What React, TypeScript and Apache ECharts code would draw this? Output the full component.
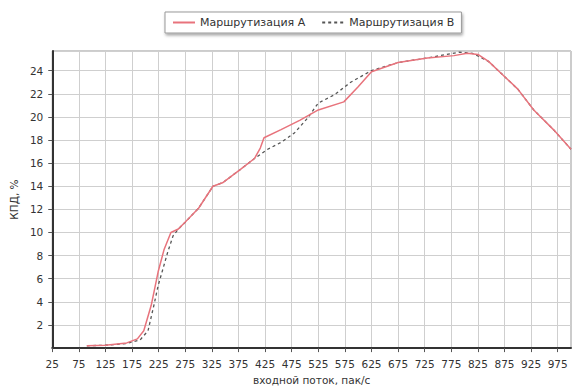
import React, { useEffect, useRef } from "react";
import * as echarts from "echarts";

const seriesNames = ["Маршрутизация А", "Маршрутизация В"];

const routeA: [number, number][] = [
  [90, 0.2], [125, 0.25], [165, 0.45], [185, 0.8], [197, 1.5], [211, 3.7],
  [224, 6.6], [235, 8.5], [248, 10.0], [262, 10.3], [275, 10.9], [300, 12.1],
  [327, 14.0], [345, 14.3], [380, 15.5], [405, 16.4], [416, 17.3], [423, 18.2],
  [455, 18.9], [490, 19.7], [525, 20.6], [573, 21.3], [600, 22.6], [625, 23.9],
  [675, 24.7], [730, 25.1], [780, 25.3], [805, 25.5], [825, 25.4], [845, 24.8],
  [868, 23.8], [900, 22.4], [930, 20.6], [967, 18.9], [1000, 17.2],
];

const routeB: [number, number][] = [
  [90, 0.2], [125, 0.25], [165, 0.4], [190, 0.7], [205, 1.5], [216, 3.7],
  [224, 5.4], [242, 8.3], [252, 9.7], [262, 10.3], [275, 10.9], [300, 12.1],
  [327, 14.0], [345, 14.3], [380, 15.5], [405, 16.4], [430, 17.2], [455, 17.8],
  [480, 18.6], [505, 19.9], [525, 21.2], [555, 21.9], [586, 23.0], [617, 23.8],
  [625, 24.0], [675, 24.7], [730, 25.1], [790, 25.6], [815, 25.5], [845, 24.8],
  [868, 23.8], [900, 22.4], [930, 20.6], [967, 18.9], [1000, 17.2],
];

const xTicks = [25, 75, 125, 175, 225, 275, 325, 375, 425, 475, 525, 575, 625, 675, 725, 775, 825, 875, 925, 975];

export default function App() {
  const ref = useRef<HTMLDivElement>(null);
  useEffect(() => {
    if (!ref.current) return;
    const chart = echarts.init(ref.current, null, { renderer: "svg" });
    chart.setOption({
      animation: false,
      textStyle: { fontFamily: "DejaVu Sans, Verdana, sans-serif" },
      legend: {
        top: 12,
        left: 165,
        padding: [5, 7],
        itemWidth: 22,
        itemHeight: 10,
        itemGap: 16,
        backgroundColor: "#fff",
        borderColor: "#999",
        borderWidth: 1,
        shadowColor: "rgba(0,0,0,0.35)",
        shadowBlur: 3,
        shadowOffsetX: 1,
        shadowOffsetY: 2,
        itemStyle: { opacity: 0 },
        textStyle: { fontSize: 11, color: "#333" },
        data: seriesNames,
      },
      grid: {
        left: 51,
        right: 1,
        top: 51,
        bottom: 40,
        show: true,
        borderColor: "#999",
        borderWidth: 1,
      },
      xAxis: {
        type: "value",
        min: 25,
        max: 1000,
        name: "входной поток, пак/с",
        nameLocation: "middle",
        nameGap: 25,
        nameTextStyle: { fontSize: 10.5, color: "#333" },
        axisLine: { show: true, lineStyle: { color: "#333", width: 2 } },
        axisTick: { show: true, length: 4, customValues: xTicks, lineStyle: { color: "#555" } },
        axisLabel: { customValues: xTicks, fontSize: 10.5, color: "#333", margin: 10 },
        splitLine: { show: true, lineStyle: { color: "#cfcfcf", width: 1 } },
      },
      yAxis: {
        type: "value",
        min: 0,
        max: 25.7,
        interval: 2,
        name: "КПД, %",
        nameLocation: "middle",
        nameGap: 33,
        nameTextStyle: { fontSize: 10.5, color: "#333" },
        axisLine: { show: true, lineStyle: { color: "#333", width: 2 } },
        axisTick: { show: true, length: 4, lineStyle: { color: "#555" } },
        axisLabel: { fontSize: 10.5, color: "#333", margin: 9, showMinLabel: false, showMaxLabel: false },
        splitLine: { show: true, lineStyle: { color: "#cfcfcf", width: 1 } },
      },
      series: [
        {
          name: seriesNames[0],
          type: "line",
          symbol: "none",
          data: routeA,
          lineStyle: { color: "#e8737c", width: 1.5 },
          itemStyle: { color: "#e8737c" },
          z: 3,
        },
        {
          name: seriesNames[1],
          type: "line",
          symbol: "none",
          data: routeB,
          lineStyle: { color: "#555", width: 1.3, type: [3, 3] },
          itemStyle: { color: "#555" },
          z: 2,
        },
      ],
    });
    return () => chart.dispose();
  }, []);
  return (
    <div
      ref={ref}
      style={{ position: "fixed", left: 0, top: 0, width: 572, height: 390, background: "#fff" }}
    />
  );
}
